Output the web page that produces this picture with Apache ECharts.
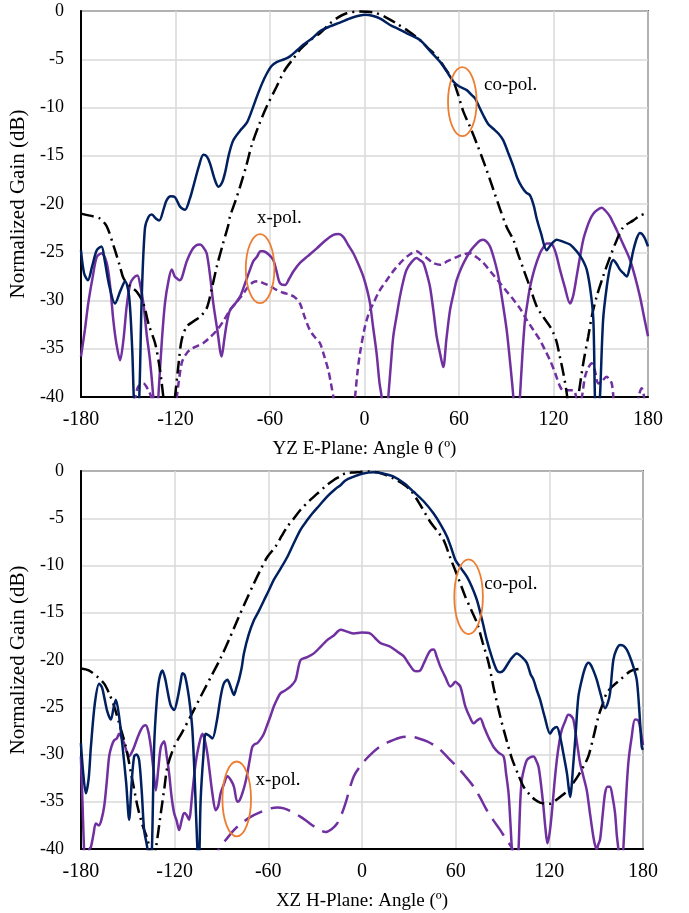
<!DOCTYPE html>
<html>
<head>
<meta charset="utf-8">
<script src="https://cdn.jsdelivr.net/npm/echarts@6/dist/echarts.min.js"></script>
<style>
html,body{margin:0;padding:0;background:#fff;}
#chart{width:689px;height:913px;}
</style>
</head>
<body>
<div id="chart"></div>
<script>
// ---------- Tick / axis data ----------
const angleTicks = [-180, -120, -60, 0, 60, 120, 180];
const gainTicks = [0, -5, -10, -15, -20, -25, -30, -35, -40];

// ---------- Top: YZ E-Plane ----------
const eCoMeasTheta = [-180,-178,-175.6,-173,-170,-167,-165,-162,-158.4,-155,-152,-149.5,-147.5,-146.5,-145,-143,-141.5,-139.4,-137,-135,-132.5,-130.3,-127.5,-125.6,-123,-120.3,-117,-114,-111,-108.7,-105,-102.3,-100,-98.1,-95,-92.8,-90.5,-88.6,-86,-83.3,-79,-74.8,-71.5,-68.4,-65,-62.1,-59,-55.8,-51,-47.3,-43,-38.9,-33,-28.3,-22,-15.6,-8,0.3,5,10,16.2,22,28,35.2,42,47.9,52,56.4,60,64.9,68,70.2,73,75.4,78.5,81.8,85,88.1,91,94.5,97,99.8,102.5,105.1,107.5,109.3,112,115.7,118,122,126,130.5,133,135.7,138.5,141.1,143.5,145.3,146.3,147.5,149.5,151.5,153.8,156,158,160,162.2,164.5,166.5,168.5,170.7,173,174.9,177.5,180];
const eCoMeasGain  = [-24.8,-27.2,-27.9,-26.5,-24.8,-24.4,-25.8,-28.5,-30.3,-29,-28.0,-29.5,-35,-40,-45,-40,-30,-22.5,-21.3,-21.1,-21.5,-21.7,-20.5,-19.6,-19.2,-19.3,-20.3,-20.6,-19.5,-18.2,-16,-14.9,-15.1,-15.8,-17.5,-18.2,-17.8,-16.8,-14.8,-13.4,-12.4,-11.6,-10.3,-8.9,-7.5,-6.5,-5.7,-5.3,-5.0,-4.7,-4.1,-3.5,-2.8,-2.1,-1.6,-1.2,-0.7,-0.4,-0.5,-0.8,-1.45,-1.9,-2.4,-3.0,-4.2,-5.25,-6.2,-7.3,-7.8,-8.2,-8.7,-9.05,-10,-10.8,-11.7,-12.2,-12.7,-13.4,-14.6,-16.1,-17.3,-18.2,-18.8,-19.1,-20.2,-21.5,-23,-24.8,-24.3,-23.7,-23.9,-24.2,-24.6,-25.1,-25.8,-26.8,-29,-32,-40,-45,-40,-32,-28.6,-26.5,-25.8,-26.2,-26.8,-27.2,-27.5,-26.5,-24.8,-23.5,-23.0,-23.4,-24.4];

const eCoSimTheta = [-180,-172,-168,-163.7,-159,-155.2,-153,-149,-144.6,-140.4,-137,-133,-130.5,-128.8,-127.7,-125,-122,-120.3,-118,-116.1,-112.9,-108,-104.4,-100.2,-97,-93.8,-90,-86.5,-85.4,-82,-79,-75,-71.6,-67,-62.1,-56,-50.5,-45,-41,-35,-28.3,-22,-17.7,-11.3,-3,5.6,13,20.4,28,35.2,40,45.8,51,56.4,59.5,62.7,67,71.2,76.5,81.8,86,90.3,94.5,97.5,100.8,105,109.3,113.5,117.8,120,122,124,126.2,128.4,130,133,135.7,138.9,142.1,144.5,147.4,151.5,155.9,160,164.3,170.7,175,180];
const eCoSimGain  = [-21.0,-21.3,-21.5,-22.3,-24.5,-26.5,-27.7,-28.5,-29.1,-30.3,-32.5,-34.4,-36.5,-38.5,-40,-43,-43,-40,-36.5,-34.1,-32.7,-32.1,-31.7,-30.8,-28.8,-26.5,-24.2,-22.2,-21.3,-19.7,-18.2,-16,-13.9,-11.8,-9.9,-7.9,-6.1,-4.9,-4.0,-3.1,-2.3,-1.3,-0.76,-0.24,-0.05,-0.14,-0.6,-1.3,-2.1,-3.0,-3.8,-4.7,-5.9,-7.3,-8.7,-10.4,-12,-13.7,-16,-18.5,-20.5,-22.4,-23.7,-25.2,-26.7,-28.6,-30.6,-31.7,-32.7,-33.4,-34.3,-35.8,-37.5,-39.6,-42,-43,-40,-36.5,-33.7,-31.5,-29.6,-27.5,-25.5,-23.8,-22.4,-21.7,-21.2,-20.9];

const eXMeasTheta = [-180,-177.5,-175.4,-172.5,-170,-166.9,-163.7,-161.5,-159.5,-157.5,-155.2,-153,-151,-148.8,-146.8,-144.2,-142.3,-140.4,-138.3,-136.2,-134.1,-133,-132,-130.9,-128.8,-126.7,-124.5,-122.4,-120.5,-119.2,-117.5,-116.1,-113,-109.7,-107,-104.4,-102.3,-100.2,-98,-96,-93.5,-90.7,-89,-87.5,-85.4,-82,-79,-76,-72.7,-70.5,-68.4,-66,-64.3,-61,-57.9,-55.8,-53.7,-50.5,-48,-45.2,-41,-36,-30.3,-25,-19.8,-16.5,-13.5,-10.5,-7.1,-4,-0.8,1.5,3.5,5.5,7.7,9.5,10.9,12.5,13.5,15.1,16.8,18.3,20.5,22.5,24.6,26.8,30,33.1,35,37.3,39.5,41.6,43.7,45.8,48,50,52,54.3,56.5,58.5,61.5,64.9,68,71.2,73.3,75.4,77.5,79.7,82.3,85,87.7,90.3,92.5,94.5,95.5,97.5,98.7,100.3,101.9,103.5,105.1,108,111.4,113.5,115.7,117.8,119.9,122,124.1,127,130.5,132.5,134.7,136.8,138.9,141.1,143.2,145.3,148,150.6,153,155.9,158,160.1,164.3,168.6,171.7,174.9,177.5,180];
const eXMeasGain  = [-35.8,-33,-30.3,-27.5,-25.5,-25.1,-26.1,-28.5,-32,-34.5,-36.2,-34,-30.6,-28.3,-27.7,-27.4,-28.5,-30.3,-33.5,-36.2,-40,-43,-43,-40,-34.5,-30.3,-28,-26.8,-27.5,-27.7,-27.9,-27.7,-26,-24.8,-24.3,-24.2,-24.5,-25.1,-27.5,-30.3,-33,-35.8,-34,-32.4,-31,-30.3,-29.6,-28.3,-26.8,-25.9,-25.5,-24.9,-24.9,-25.2,-25.8,-27,-28.2,-28.4,-27.8,-27.0,-26.1,-25.4,-24.6,-23.8,-23.2,-23.1,-23.4,-24.2,-25.1,-26.2,-27.5,-28.8,-30.3,-32.8,-35.5,-38.5,-40,-43,-43,-40,-36.5,-33.7,-31.5,-29.6,-28,-26.8,-26,-25.6,-25.8,-26.1,-27.2,-28.6,-31,-33.7,-35.5,-36.9,-34,-31,-29.3,-27.9,-26.6,-25.5,-24.7,-24.1,-23.8,-23.7,-23.9,-24.4,-25.7,-27.5,-30.2,-33.1,-36.5,-40,-43,-43,-40,-35.5,-32,-30.2,-28.6,-26.7,-25.1,-24.5,-24.1,-24.1,-24.4,-25.4,-26.8,-28.5,-30.3,-29.5,-27.5,-25.5,-23.7,-22.5,-21.6,-21.0,-20.6,-20.4,-20.7,-21.3,-22,-22.7,-24.2,-25.8,-27.5,-29.6,-31.7,-33.7];

const eXSimTheta = [-150,-147,-145.5,-143.6,-140.4,-137.2,-135.5,-134,-130,-125,-121,-119.2,-116.1,-113.5,-110.8,-106,-102.3,-98,-93.8,-89.5,-85.4,-81,-77,-74,-70.6,-67.5,-64.3,-60,-55.8,-51.5,-47.3,-44,-41,-37.8,-34.6,-31.5,-28.3,-25.5,-23,-21.3,-19.8,-18,-8,-6,-4.5,-2.9,0.3,2.8,5.6,9.5,14.1,19,24.6,29,33.1,36,39.5,43.5,47.9,53,58.5,63,67,71,75.4,80.5,86,90,94.5,99,103,107,111.4,114.5,117.8,121,124.1,126,128.4,130.5,132.6,134.5,136,138,140,142,144.3,146.3,148.4,150.5,153.8,155.5,157,158,159,172,174,176,177.5,178.5,180];
const eXSimGain  = [-45,-42,-40,-38.9,-38.6,-39.3,-40,-42,-45,-45,-42,-40,-36.5,-35.6,-35.1,-34.7,-34.4,-33.8,-33.1,-32.1,-31,-30.1,-29.3,-28.6,-28.1,-28.0,-28.2,-28.5,-28.9,-29.2,-29.4,-29.7,-30.3,-31.8,-33.1,-33.8,-34.4,-35.8,-37.2,-38.6,-40,-43,-43,-40,-37.5,-35.5,-32.7,-31.3,-30.3,-29,-27.9,-26.8,-25.8,-25.2,-24.9,-25.2,-25.6,-26.1,-26.3,-25.9,-25.5,-25.2,-25.1,-25.5,-26.1,-27.1,-28.2,-29,-29.9,-30.9,-32,-33,-34.1,-35.1,-36.2,-37.5,-38.9,-39.3,-39.3,-39.3,-39.3,-40,-41,-40,-37.9,-37.0,-36.5,-37.3,-38.6,-38.4,-37.9,-38.2,-38.6,-40,-43,-43,-40,-39.1,-40,-43,-44];

// ---------- Bottom: XZ H-Plane ----------
const hCoMeasTheta = [-180,-178.5,-176.8,-175,-173.6,-171,-168.3,-166.5,-165.1,-163,-160.8,-159,-157.6,-155.5,-153.3,-151,-149.1,-147.5,-145.9,-144.3,-142.7,-141,-139.5,-137.4,-136,-134.5,-133.1,-131.5,-129.9,-127.8,-126,-124.6,-122.5,-120.3,-118,-116,-115,-113.5,-111.5,-110,-108.6,-107,-105.4,-104.5,-103.3,-101.5,-100.1,-98,-95.8,-93,-90.5,-88.5,-86.2,-84,-82,-80.5,-78.8,-77,-75.6,-72.5,-69.2,-66,-62.8,-59.5,-56.4,-52,-47.8,-43.5,-39.3,-35.5,-31.8,-27,-22.3,-17,-13.7,-10.6,-5.2,0,7.5,14,20.3,27,33.1,39.5,45.9,50.5,54.5,57.3,59.8,63.5,67.3,70.5,73.7,77,80,83,86.4,88.5,90.7,95,99.2,102.5,105.6,108,109.9,112,114.1,117,120.5,122.5,124.8,127,129,131.3,133.3,135.4,137,138.6,140.8,143,145,146.5,148.2,150.4,153,155.7,157.5,158.9,161,163,165.3,167.5,169.6,171.5,173.8,176,177.5,179.2,180];
const hCoMeasGain  = [-28.8,-32,-34.1,-32.5,-29.2,-24.5,-22.5,-22.9,-23.9,-25.5,-26.3,-25,-24.2,-26,-29.2,-33,-36.9,-33,-30.2,-30,-30.6,-34,-38,-40,-45,-40,-29.2,-24.5,-22.1,-21.1,-22,-23.2,-24.8,-25.3,-24,-22.2,-21.4,-21.6,-23.2,-25,-27.4,-33,-40,-42,-34.8,-30,-27.8,-28,-28.3,-26.5,-23.9,-22.5,-22.1,-22.9,-23.7,-23.0,-22.1,-20.8,-19.3,-17.3,-15.8,-14.8,-13.7,-12.6,-11.5,-10.3,-9.1,-7.6,-6.2,-5.3,-4.5,-3.6,-2.7,-1.9,-1.5,-1.0,-0.6,-0.3,-0.14,-0.3,-0.6,-1.3,-2.2,-3.2,-4.5,-5.7,-6.95,-8.2,-9.4,-10.3,-11.2,-12.3,-13.7,-15.8,-17.9,-19.6,-21.1,-21.3,-21.1,-20.0,-19.3,-19.7,-20.3,-21.5,-22.1,-23.2,-24.2,-26,-27.8,-27.3,-27.1,-28.2,-29.9,-32,-34.5,-30.9,-27.5,-23.9,-22.1,-20.8,-20.3,-20.5,-21.1,-22.1,-23.7,-25.1,-24.5,-23.5,-20,-18.9,-18.4,-18.5,-18.9,-19.6,-20.7,-22.1,-25,-29.2,-29.5];

const hCoSimTheta = [-180,-175,-169.3,-165.1,-162,-158.7,-155.5,-151.2,-147.5,-143.7,-140.5,-137.3,-135.5,-134,-132,-128.8,-126.5,-124.6,-120.3,-115,-108.6,-101.2,-95.8,-90.5,-85,-79.8,-74.5,-69.2,-64.8,-60.6,-55.3,-51.5,-47.8,-43.5,-39.3,-34,-28.6,-23.3,-18,-14.3,-10.6,-5,-1,4,9.7,15,20.3,25.7,31,37.4,43.8,48,52.3,56.6,61.4,66.2,70,73.7,77.4,81.1,84.3,88.6,92.3,96,99.8,103.5,107.7,110.9,114.1,117.3,120.5,123.7,126.9,131.2,135.4,138.6,141.8,145,148.2,151.4,154.1,156.8,161,165.3,171.7,175.5,180];
const hCoSimGain  = [-20.9,-21.1,-21.8,-22.5,-23.5,-24.9,-26.7,-29.2,-32.3,-35.5,-37.5,-39,-40.5,-42,-40,-36.2,-33.5,-31.3,-29.2,-27.6,-25.6,-23.2,-21.5,-19.8,-17.8,-15.8,-13.8,-11.9,-10.4,-9.1,-8.0,-6.9,-5.9,-5.0,-4.1,-3.2,-2.4,-1.6,-0.95,-0.6,-0.25,-0.15,-0.1,-0.05,-0.14,-0.4,-0.8,-1.3,-2.0,-3.6,-5.4,-6.3,-7.3,-9.2,-11.2,-13.3,-14.7,-16.1,-18.2,-20.3,-22.9,-26,-28.3,-30.4,-32,-33.4,-34.3,-34.8,-35.1,-35.2,-35.2,-34.9,-34.5,-33.9,-33.0,-32.2,-31.3,-30.2,-28.2,-26,-24.7,-23.5,-22.7,-22.1,-21.2,-21.0,-20.9];

const hXMeasTheta = [-180,-179,-178,-177,-175.5,-174.5,-173.6,-172,-170.4,-168.5,-167,-165.1,-163.5,-161.9,-160.3,-158.7,-157,-155.5,-154,-152.3,-150.7,-149.1,-147.5,-145.9,-143.7,-141.6,-140,-138.4,-136.8,-135.2,-133.6,-132,-130.4,-128.8,-126.7,-125,-123.5,-121.9,-120.3,-118.7,-117.1,-115.5,-113.9,-112.3,-110.8,-108.6,-106.5,-104.4,-102.2,-100.6,-99,-97.4,-95.8,-93.7,-92.1,-90.5,-88.3,-86.2,-84,-82,-79.8,-78.2,-76.6,-75,-73.4,-71.8,-70.2,-68.5,-67,-65,-62.8,-60.5,-58.5,-56.4,-54.2,-52.1,-49,-45.7,-42.5,-39.3,-35,-30.8,-26.5,-22.3,-18,-13.7,-9.5,-5.2,0,5.4,8.5,11.8,15,18.2,22.5,26.7,30,33.1,35.2,37.4,39.5,41.7,43.8,45.9,48,50.2,53.4,56.6,58.2,59.8,61.4,63,64.6,66.2,69,71.5,73.7,75.8,78,80,82,84.3,87.5,90.7,92.3,93.9,95,96,97.5,99,100.3,101.4,102.4,104,105.6,107.7,109.9,111.5,113.1,114.7,116.2,117.5,118.8,120.2,121.6,123.2,124.8,126.4,128,130.1,132.2,133.8,135.4,137.5,139.7,141.8,144,146.1,148.2,149.3,150.4,151.4,152.5,154.1,155.7,157.3,158.9,160.5,162.1,163.2,164.2,165.5,166.5,167.4,169,170.6,172.7,174.9,177,178.5,180];
const hXMeasGain  = [-30.2,-35,-40,-43,-42,-40,-39.8,-38.5,-37.3,-37.5,-37,-35.5,-33,-30.2,-29.1,-28.5,-28.3,-27.8,-28.2,-28.8,-29.7,-30.2,-29.8,-29.2,-28.2,-27.4,-27,-26.9,-27.6,-29.2,-31.5,-33.8,-31.5,-29.2,-28.6,-30.2,-32,-34.5,-36.2,-37,-38,-37,-36.2,-36.4,-36.9,-34,-30.9,-29,-27.8,-28.5,-29.9,-32,-34.1,-35.9,-35.5,-34.1,-33.1,-32.3,-32.7,-33.4,-35,-34.8,-34.1,-33.2,-32,-30.5,-29.2,-28.9,-28.8,-28.4,-27.8,-26.8,-25.9,-24.9,-24.1,-23.5,-23.2,-22.8,-22.1,-20,-19.7,-19.3,-18.6,-17.9,-17.4,-16.8,-17.0,-17.2,-17.1,-17.2,-17.7,-18.2,-18.4,-18.6,-19.1,-19.6,-20.4,-21.1,-21.2,-21.1,-20.4,-19.6,-19.0,-18.9,-19.7,-20.7,-21.8,-22.8,-22.6,-22.3,-22.5,-22.8,-23.8,-24.9,-26,-26.7,-26.4,-26.2,-27,-27.8,-28.5,-29.2,-29.8,-30.2,-32,-34.1,-37,-40,-44,-44,-40,-35,-32.7,-31.4,-30.6,-30.3,-30.2,-30.6,-31.3,-33.2,-35.5,-37.8,-39.4,-38.3,-36.2,-33.2,-30.6,-28.7,-27.4,-26.5,-25.8,-25.9,-26.3,-28.5,-30.9,-32.3,-33.8,-36.3,-38.7,-39.6,-40,-39.5,-39,-36.5,-34.1,-33.4,-33.4,-34.5,-36.2,-38.5,-40,-43,-42,-40,-35,-30.9,-28.2,-26.3,-26.4,-27.5,-29];

const hXSimTheta = [-95,-91.6,-87,-82,-76.5,-71.3,-65,-58.5,-54,-50,-44.5,-39.3,-35,-30.8,-27,-23.3,-19.5,-15.9,-13,-10.6,-5.2,1,7.5,12.8,18.2,24.6,31,36.4,41.7,46,50.2,55.5,60.9,66.2,71.5,75.8,80,84.3,88.6,92,95,96.5,98];
const hXSimGain  = [-42,-40,-39,-38,-37.2,-36.6,-36.1,-35.7,-35.6,-35.7,-36.1,-36.6,-37.1,-37.6,-38.0,-38.2,-37.9,-37.3,-36.3,-35.2,-32.3,-30.8,-29.7,-29.0,-28.6,-28.2,-28.1,-28.3,-28.6,-29.0,-29.5,-30.4,-31.3,-32.3,-33.4,-34.6,-35.9,-37.0,-38,-38.9,-39.6,-40,-42];

// ---------- Annotations (data coordinates) ----------
const annotations = [
  {grid:0, label:'co-pol.', ellipse:[62.1,-9.4], text:[75.9,-7.7]},
  {grid:0, label:'x-pol.',  ellipse:[-66.3,-26.7], text:[-68.3,-21.5]},
  {grid:1, label:'co-pol.', ellipse:[68.3,-13.3], text:[78.3,-12.0]},
  {grid:1, label:'x-pol.',  ellipse:[-80.2,-34.7], text:[-68.1,-32.7]}
];

const NAVY = '#002060', PURPLE = '#7030A0', ORANGE = '#ED7D31', GRIDC = '#d9d9d9';
const FONT = '"Liberation Serif","Times New Roman",serif';

function zip(t, g){ return t.map((v,i)=>[v, g[i]]); }

function mkX(idx, name){
  return {
    gridIndex: idx, type:'value', min:-180, max:180, interval:60,
    name: name, nameLocation:'middle', nameGap:43,
    nameTextStyle:{fontFamily:FONT, fontSize:19, color:'#000'},
    axisLine:{show:true, onZero:false, lineStyle:{color:'#000', width:2}},
    axisTick:{show:false},
    axisLabel:{fontFamily:FONT, fontSize:20, color:'#000', margin:13},
    splitLine:{show:true, lineStyle:{color:GRIDC, width:1.5}}
  };
}
function mkY(idx){
  return {
    gridIndex: idx, type:'value', min:-40, max:0, interval:5,
    name:'Normalized Gain (dB)', nameLocation:'middle', nameGap:46,
    nameTextStyle:{fontFamily:FONT, fontSize:21, color:'#000'},
    axisLine:{show:true, onZero:false, lineStyle:{color:'#000', width:2}},
    axisTick:{show:false},
    axisLabel:{fontFamily:FONT, fontSize:18, color:'#000', margin:17},
    splitLine:{show:true, lineStyle:{color:GRIDC, width:1.5}}
  };
}
function mkS(idx, data, color, type){
  return {
    type:'line', xAxisIndex:idx, yAxisIndex:idx, data:data,
    showSymbol:false, smooth:0.3, clip:true, animation:false,
    lineStyle:{color:color, width:2.5, type:type}
  };
}

const chart = echarts.init(document.getElementById('chart'), null, {renderer:'canvas'});
chart.setOption({
  animation:false,
  backgroundColor:'#fff',
  grid:[
    {left:81, top:11, width:567, height:386, show:true, borderColor:'#000', borderWidth:1.5, backgroundColor:'transparent'},
    {left:80, top:471, width:563, height:378, show:true, borderColor:'#000', borderWidth:1.5, backgroundColor:'transparent'}
  ],
  xAxis:[mkX(0,'YZ E-Plane: Angle θ (º)'), mkX(1,'XZ H-Plane: Angle (º)')],
  yAxis:[mkY(0), mkY(1)],
  series:[
    mkS(0, zip(eXSimTheta, eXSimGain), PURPLE, [7,4]),
    mkS(0, zip(eXMeasTheta, eXMeasGain), PURPLE, 'solid'),
    mkS(0, zip(eCoSimTheta, eCoSimGain), '#000', [13,5,2,5]),
    mkS(0, zip(eCoMeasTheta, eCoMeasGain), NAVY, 'solid'),
    mkS(1, zip(hXSimTheta, hXSimGain), PURPLE, [20,9]),
    mkS(1, zip(hXMeasTheta, hXMeasGain), PURPLE, 'solid'),
    mkS(1, zip(hCoSimTheta, hCoSimGain), '#000', [13,5,2,5]),
    mkS(1, zip(hCoMeasTheta, hCoMeasGain), NAVY, 'solid')
  ]
});

// ellipses & labels, positioned from data coordinates
const elems = [];
annotations.forEach(a => {
  const c = chart.convertToPixel({gridIndex:a.grid}, a.ellipse);
  const t = chart.convertToPixel({gridIndex:a.grid}, a.text);
  elems.push({type:'ellipse', shape:{cx:c[0], cy:c[1], rx:14.3, ry:a.grid===0?34.5:37.4},
    style:{fill:'none', stroke:ORANGE, lineWidth:1.8}, z:100});
  elems.push({type:'text', x:t[0], y:t[1], style:{text:a.label, fill:'#000', font:'19px ' + FONT,
    textAlign:'left', textVerticalAlign:'middle'}, z:100});
});
chart.setOption({graphic:{elements:elems}});
</script>
</body>
</html>
